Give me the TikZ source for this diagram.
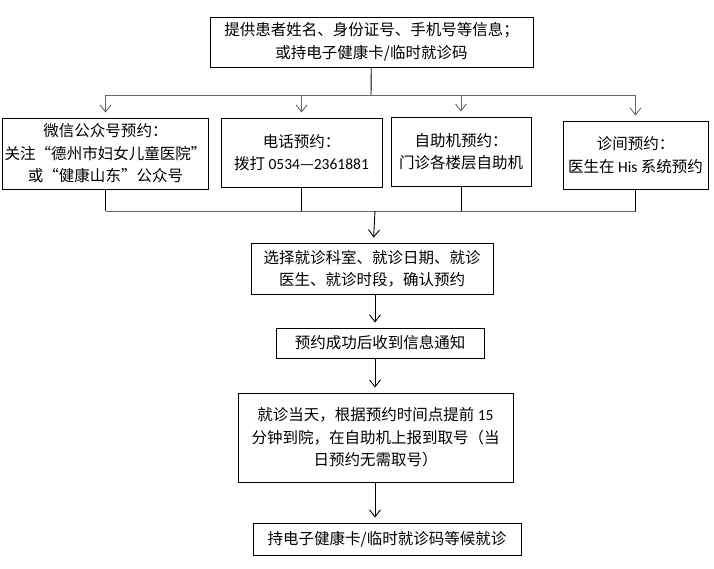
\documentclass[tikz,border=0pt]{standalone}
\usepackage{fontspec}
\setmainfont{Noto Sans CJK SC}
\newfontfamily\latinnum{Carlito}
\usepackage{tikz}
\usetikzlibrary{positioning,arrows.meta}

\begin{document}
\begin{tikzpicture}[
    x=1pt, y=-1pt,
    font=\fontsize{15.5}{22.5}\selectfont,
    box/.style={draw, line width=0.9pt, rectangle, align=center, inner sep=2pt},
    arr/.style={-{Straight Barb[length=7pt,width=11pt]}, line width=0.9pt, shorten >=5pt},
    link/.style={line width=0.9pt}
]
\useasboundingbox (0,0) rectangle (714,569);

\node[box, minimum width=323pt, minimum height=50pt] (info) at (371.5,42) {提供患者姓名、身份证号、手机号等信息；\\或持电子健康卡/临时就诊码};

\node[box, minimum width=197pt, minimum height=71pt] (wx) at (105.5,153.5) {微信公众号预约：\\关注“德州市妇女儿童医院”\\或“健康山东”公众号};
\node[box, minimum width=161pt, minimum height=69pt] (dh) at (301.5,152.5) {电话预约：\\拨打 {\latinnum 0534}—{\latinnum 2361881}};
\node[box, minimum width=140pt, minimum height=69pt] (zz) at (461,151.5) {自助机预约：\\门诊各楼层自助机};
\node[box, minimum width=145pt, minimum height=68pt] (zj) at (635.5,155) {诊间预约：\\医生在 {\latinnum His} 系统预约};

\node[box, minimum width=242pt, minimum height=51pt] (xz) at (372,268.5) {选择就诊科室、就诊日期、就诊\\医生、就诊时段，确认预约};
\node[box, minimum width=208pt, minimum height=30pt] (cg) at (380,343) {预约成功后收到信息通知};
\node[box, minimum width=275pt, minimum height=89pt] (dt) at (375.5,437.5) {就诊当天，根据预约时间点提前 {\latinnum 15}\\分钟到院，在自助机上报到取号（当\\日预约无需取号）};
\node[box, minimum width=268pt, minimum height=32pt] (hz) at (387,539) {持电子健康卡/临时就诊码等候就诊};

\coordinate (split) at (371,95);
\coordinate (merge) at (375,211);

% branch to the four ways
\draw[link] (info) -- (split);
\draw[link, black!60] (split -| wx) -- (split -| zj);
\foreach \n in {wx,dh,zz,zj}
    \draw[arr, black!60] (split -| \n) -- (\n);

% merge back
\foreach \n in {wx,dh,zz,zj}
    \draw[link] (\n) -- (\n |- merge);
\draw[link, black!60] (merge -| wx) -- (merge -| zj);
\draw[arr] (merge) -- (xz);
\draw[arr] (xz.south -| merge) -- (cg.north -| merge);
\draw[arr] (cg.south -| merge) -- (dt.north -| merge);
\draw[arr] (dt.south -| merge) -- (hz.north -| merge);
\end{tikzpicture}
\end{document}
